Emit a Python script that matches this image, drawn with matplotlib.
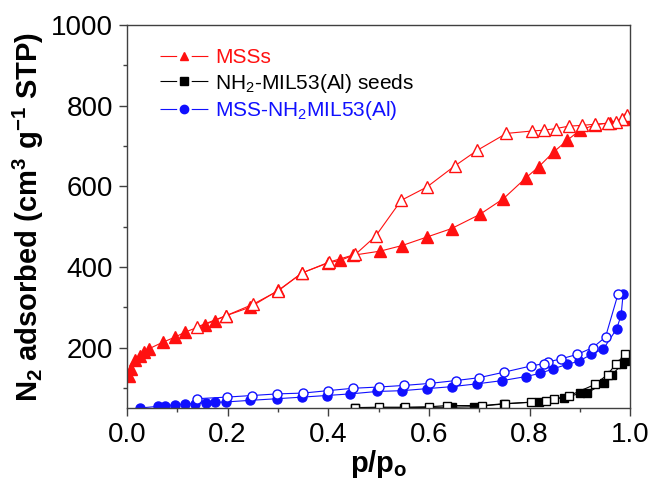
import matplotlib.pyplot as plt
from matplotlib.ticker import MultipleLocator

plt.rcParams['font.family'] = ['Liberation Sans', 'DejaVu Sans']
plt.rcParams['mathtext.fontset'] = 'custom'
plt.rcParams['mathtext.rm'] = 'Liberation Sans'
plt.rcParams['mathtext.bf'] = 'Liberation Sans:bold'

# MSSs (red triangles)
mss_ads_x = [0.005, 0.009, 0.016, 0.025, 0.034, 0.044, 0.071, 0.096, 0.115, 0.155, 0.175,
             0.197, 0.245, 0.301, 0.348, 0.40, 0.424, 0.45, 0.503, 0.547, 0.596, 0.645,
             0.701, 0.748, 0.793, 0.818, 0.848, 0.875, 0.90, 0.93, 0.96, 0.99]
mss_ads_y = [130, 147, 168, 180, 188, 197, 213, 226, 238, 257, 267,
             279, 300, 342, 385, 410, 416, 429, 439, 453, 474, 495,
             530, 569, 621, 648, 685, 714, 739, 752, 758, 768]
mss_des_x = [0.994, 0.984, 0.971, 0.955, 0.931, 0.905, 0.878, 0.852, 0.828, 0.805, 0.754,
             0.696, 0.651, 0.596, 0.545, 0.494, 0.454, 0.402, 0.348, 0.301, 0.25, 0.197, 0.139]
mss_des_y = [776, 768, 760, 756, 754, 751, 749, 743, 739, 737, 731,
             689, 650, 598, 565, 476, 431, 412, 385, 341, 307, 279, 251]

# NH2-MIL53(Al) seeds (black squares)
seed_ads_x = [0.454, 0.55, 0.646, 0.689, 0.749, 0.818, 0.868, 0.901, 0.915, 0.948, 0.964, 0.984, 0.99]
seed_ads_y = [50, 51, 52, 53, 60, 66, 76, 86, 88, 111, 133, 158, 167]
seed_des_x = [0.99, 0.971, 0.955, 0.931, 0.878, 0.848, 0.832, 0.802, 0.752, 0.706, 0.636, 0.60, 0.553, 0.50, 0.454]
seed_des_y = [183, 158, 133, 109, 80, 72, 68, 64, 61, 56, 56, 53, 52, 52, 51]

# MSS-NH2MIL53(Al) (blue circles)
comp_ads_x = [0.026, 0.061, 0.076, 0.096, 0.116, 0.135, 0.157, 0.175, 0.197, 0.245, 0.298,
              0.348, 0.397, 0.444, 0.497, 0.547, 0.596, 0.646, 0.696, 0.746, 0.793, 0.821,
              0.847, 0.874, 0.898, 0.923, 0.947, 0.973, 0.982, 0.986]
comp_ads_y = [50, 54, 56, 58, 60, 61, 63, 64, 65, 69, 73,
              77, 81, 85, 91, 93, 98, 103, 110, 118, 128, 136,
              147, 158, 166, 183, 197, 246, 280, 333]
comp_des_x = [0.976, 0.951, 0.926, 0.895, 0.863, 0.836, 0.828, 0.802, 0.75, 0.699, 0.653,
              0.602, 0.551, 0.50, 0.45, 0.399, 0.35, 0.299, 0.249, 0.198, 0.139]
comp_des_y = [333, 226, 200, 183, 172, 164, 160, 154, 139, 125, 118,
              111, 106, 102, 99, 93, 87, 85, 81, 77, 73]

RED = '#ff1010'
BLUE = '#1010ff'

fig = plt.figure(figsize=(6.51, 4.8), dpi=100)
ax = fig.add_axes([0.195, 0.15, 0.773, 0.798])

ax.plot(mss_ads_x, mss_ads_y, '-^', color=RED, ms=8, lw=0.8, label='MSSs')
ax.plot(mss_des_x, mss_des_y, '-^', color=RED, mfc='white', ms=8, lw=0.8)
ax.plot(seed_ads_x, seed_ads_y, '-s', color='black', ms=5.5, lw=0.8,
        label=r'NH$_2$-MIL53(Al) seeds')
ax.plot(seed_des_x, seed_des_y, '-s', color='black', mfc='white', ms=5.5, lw=0.8)
ax.plot(comp_ads_x, comp_ads_y, '-o', color=BLUE, ms=6.5, lw=0.8,
        label=r'MSS-NH$_2$MIL53(Al)')
ax.plot(comp_des_x, comp_des_y, '-o', color=BLUE, mfc='white', ms=6.5, lw=0.8)

ax.set_xlim(0, 1.0)
ax.set_ylim(50, 1000)
ax.xaxis.set_minor_locator(MultipleLocator(0.1))
ax.yaxis.set_minor_locator(MultipleLocator(100))
ax.set_xticks([0.0, 0.2, 0.4, 0.6, 0.8, 1.0])
ax.set_xticklabels(['0.0', '0.2', '0.4', '0.6', '0.8', '1.0'])
ax.set_yticks([200, 400, 600, 800, 1000])

for s in ax.spines.values():
    s.set_color('#404040')
    s.set_linewidth(1.0)
ax.tick_params(which='major', direction='out', length=6, width=1, color='#404040',
               labelsize=20, pad=4)
ax.tick_params(which='minor', direction='out', length=3, width=1, color='#404040')

ax.set_xlabel(r'p/p$_\mathbf{o}$', fontsize=21, fontweight='bold', labelpad=0)
ax.set_ylabel(r'N$_\mathbf{2}$ adsorbed (cm$^\mathbf{3}$ g$^\mathbf{-1}$ STP)',
              fontsize=21, fontweight='bold', labelpad=4)

leg = ax.legend(loc='upper left', bbox_to_anchor=(0.066, 0.94), frameon=False,
                fontsize=15, handlelength=2.3, handletextpad=0.33, labelspacing=0.22,
                borderpad=0, borderaxespad=0, numpoints=1, labelcolor='linecolor')
for h in leg.legend_handles:
    h.set_markersize(6)
    # line - marker - line, with gaps around the marker
    h.set_linestyle((0, (15.0, 13.1)))

fig.savefig('out.png', dpi=100)
